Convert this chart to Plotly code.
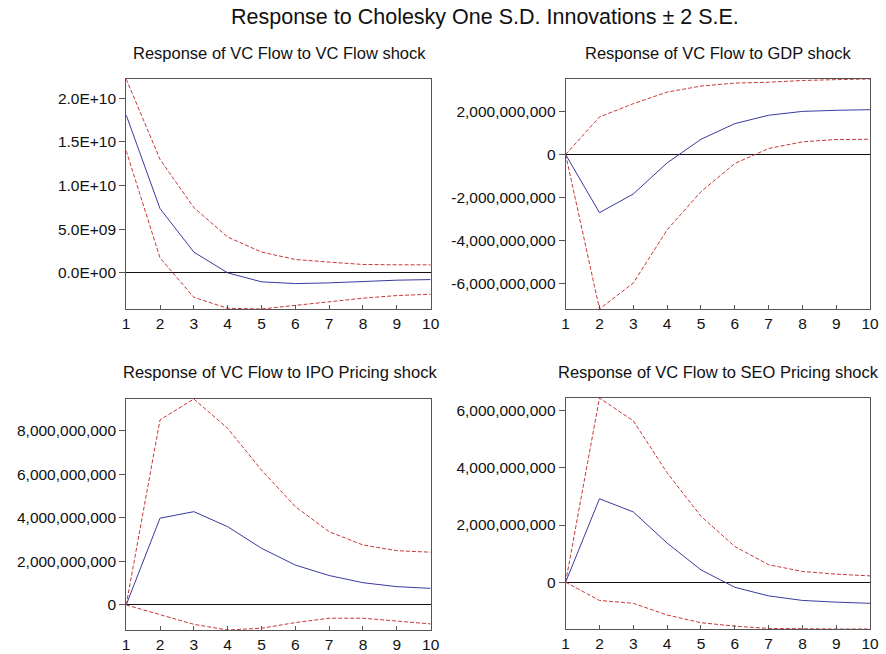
import plotly.graph_objects as go

periods = [1, 2, 3, 4, 5, 6, 7, 8, 9, 10]

main_title = "Response to Cholesky One S.D. Innovations \u00b1 2 S.E."
panel_titles = [
    "Response of VC Flow to VC Flow shock",
    "Response of VC Flow to GDP shock",
    "Response of VC Flow to IPO Pricing shock",
    "Response of VC Flow to SEO Pricing shock",
]

# Panel 1: VC Flow shock (values in units)
vc_resp = [18.08e9, 7.36e9, 2.38e9, 0.0, -1.03e9, -1.23e9, -1.15e9, -0.96e9, -0.84e9, -0.77e9]
vc_upper = [22.2e9, 13.0e9, 7.47e9, 4.1e9, 2.38e9, 1.53e9, 1.23e9, 0.96e9, 0.92e9, 0.92e9]
vc_lower = [13.98e9, 1.72e9, -2.8e9, -4.06e9, -4.14e9, -3.75e9, -3.33e9, -2.9e9, -2.6e9, -2.45e9]

# Panel 2: GDP shock
gdp_resp = [0.0, -2.71e9, -1.84e9, -0.39e9, 0.71e9, 1.44e9, 1.83e9, 2.01e9, 2.06e9, 2.09e9]
gdp_upper = [0.0, 1.75e9, 2.37e9, 2.91e9, 3.19e9, 3.33e9, 3.37e9, 3.45e9, 3.49e9, 3.52e9]
gdp_lower = [0.0, -7.2e9, -5.99e9, -3.51e9, -1.73e9, -0.42e9, 0.28e9, 0.59e9, 0.70e9, 0.71e9]

# Panel 3: IPO Pricing shock
ipo_resp = [0.0, 3.98e9, 4.28e9, 3.59e9, 2.6e9, 1.83e9, 1.35e9, 1.02e9, 0.84e9, 0.76e9]
ipo_upper = [0.0, 8.49e9, 9.45e9, 8.1e9, 6.19e9, 4.51e9, 3.36e9, 2.75e9, 2.49e9, 2.42e9]
ipo_lower = [0.0, -0.46e9, -0.89e9, -1.15e9, -1.07e9, -0.81e9, -0.61e9, -0.61e9, -0.73e9, -0.87e9]

# Panel 4: SEO Pricing shock
seo_resp = [0.0, 2.92e9, 2.46e9, 1.37e9, 0.43e9, -0.18e9, -0.48e9, -0.64e9, -0.70e9, -0.74e9]
seo_upper = [0.0, 6.45e9, 5.65e9, 3.83e9, 2.31e9, 1.25e9, 0.61e9, 0.375e9, 0.28e9, 0.22e9]
seo_lower = [0.0, -0.64e9, -0.74e9, -1.15e9, -1.42e9, -1.54e9, -1.62e9, -1.64e9, -1.64e9, -1.64e9]

ytick_vals = [
    [0, 5e9, 1e10, 1.5e10, 2e10],
    [-6e9, -4e9, -2e9, 0, 2e9],
    [0, 2e9, 4e9, 6e9, 8e9],
    [0, 2e9, 4e9, 6e9],
]
ytick_text = [
    ["0.0E+00", "5.0E+09", "1.0E+10", "1.5E+10", "2.0E+10"],
    ["-6,000,000,000", "-4,000,000,000", "-2,000,000,000", "0", "2,000,000,000"],
    ["0", "2,000,000,000", "4,000,000,000", "6,000,000,000", "8,000,000,000"],
    ["0", "2,000,000,000", "4,000,000,000", "6,000,000,000"],
]

panels = [
    (vc_resp, vc_upper, vc_lower),
    (gdp_resp, gdp_upper, gdp_lower),
    (ipo_resp, ipo_upper, ipo_lower),
    (seo_resp, seo_upper, seo_lower),
]

W, H = 886, 654
# plot-area pixel boxes: (left, right, top, bottom)
boxes = [
    (124, 433, 79, 309),
    (570, 879, 79, 309),
    (124, 433, 399, 630),
    (570, 879, 398, 629),
]
title_pos = [(280, 53), (725, 53), (280, 372), (725, 372)]

FONT = "Liberation Sans, Arial, Helvetica, sans-serif"
BLUE = "#3a3aa0"
RED = "#c83838"
AX = "#555555"

fig = go.Figure()
layout = dict(
    width=W, height=H,
    margin=dict(l=0, r=0, t=0, b=0),
    paper_bgcolor="white", plot_bgcolor="white",
    showlegend=False,
    font=dict(family=FONT, color="#111111", size=15),
    annotations=[],
)

for i, (resp, up, lo) in enumerate(panels):
    n = i + 1
    xa = "x" if n == 1 else f"x{n}"
    ya = "y" if n == 1 else f"y{n}"
    for ser, color, dash in ((up, RED, "4px,2px"), (lo, RED, "4px,2px"), (resp, BLUE, "solid")):
        fig.add_trace(go.Scatter(x=periods, y=ser, mode="lines", xaxis=xa, yaxis=ya,
                                 line=dict(color=color, width=1, dash=dash),
                                 hoverinfo="skip"))
    l, r, t, b = boxes[i]
    ymin = min(min(lo), min(resp), min(up))
    ymax = max(max(up), max(resp), max(lo))
    layout["xaxis" if n == 1 else f"xaxis{n}"] = dict(
        domain=[l / W, r / W], anchor=ya, range=[1, 10],
        tickvals=periods, ticktext=[str(p) for p in periods],
        ticks="inside", ticklen=4, tickcolor=AX,
        showline=True, mirror=True, linecolor=AX, linewidth=1,
        showgrid=False, zeroline=False, tickfont=dict(size=15.5),
    )
    layout["yaxis" if n == 1 else f"yaxis{n}"] = dict(
        domain=[1 - b / H, 1 - t / H], anchor=xa, range=[ymin, ymax],
        tickvals=ytick_vals[i], ticktext=ytick_text[i],
        ticks="outside", ticklen=6, tickcolor=AX,
        showline=True, mirror=True, linecolor=AX, linewidth=1,
        showgrid=False, zeroline=True, zerolinecolor="#111111", zerolinewidth=1,
        tickfont=dict(size=15.5),
    )
    tx, ty = title_pos[i]
    layout["annotations"].append(dict(
        text=panel_titles[i], x=tx / W, y=1 - ty / H, xref="paper", yref="paper",
        xanchor="center", yanchor="middle", showarrow=False, font=dict(size=16.5)))

layout["annotations"].append(dict(
    text=main_title, x=488 / W, y=1 - 17 / H, xref="paper", yref="paper",
    xanchor="center", yanchor="middle", showarrow=False, font=dict(size=21.5)))

fig.update_layout(**layout)
fig.write_html("out.html")
